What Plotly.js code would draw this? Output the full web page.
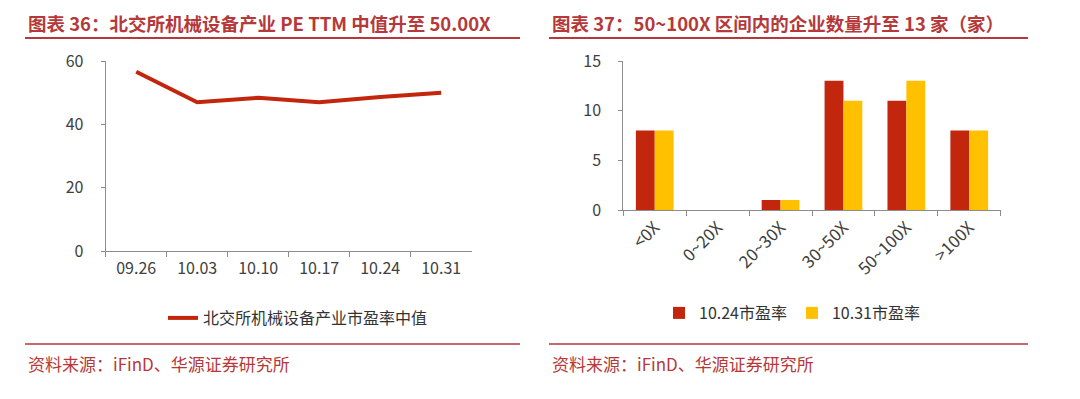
<!DOCTYPE html>
<html>
<head>
<meta charset="utf-8">
<script src="https://cdn.plot.ly/plotly-3.0.1.min.js"></script>
<style>
html,body{margin:0;padding:0;background:#fff;}
#chart{width:1080px;height:399px;}
</style>
</head>
<body>
<div id="chart"></div>
<script>
// Left chart: PE TTM median
const dates = ["09.26", "10.03", "10.10", "10.17", "10.24", "10.31"];
const peMedian = [56.6, 47.0, 48.4, 47.0, 48.6, 50.0];
const lineName = "北交所机械设备产业市盈率中值";

// Right chart: number of companies per PE range
const peRanges = ["<0X", "0~20X", "20~30X", "30~50X", "50~100X", ">100X"];
const count1024 = [8, 0, 1, 13, 11, 8];
const count1031 = [8, 0, 1, 11, 13, 8];
const name1024 = "10.24市盈率";
const name1031 = "10.31市盈率";

const title1 = "图表 36：北交所机械设备产业 PE TTM 中值升至 50.00X";
const title2 = "图表 37：50~100X 区间内的企业数量升至 13 家（家）";
const source = "资料来源：iFinD、华源证券研究所";

const W = 1080, H = 399;
const px = x => x / W;
const py = y => 1 - y / H;

const cjk = '"Noto Sans CJK SC", "Noto Sans", sans-serif';
const tickFont = {family: cjk, size: 16, color: '#404040'};
const axisColor = '#8c8c8c';
const titleColor = '#b5393a';

const traces = [
  {
    x: dates, y: peMedian, type: 'scatter', mode: 'lines', name: lineName,
    line: {color: '#c2260c', width: 4}, xaxis: 'x', yaxis: 'y', legend: 'legend'
  },
  {
    x: peRanges, y: count1024, type: 'bar', name: name1024,
    marker: {color: '#c2260c'}, xaxis: 'x2', yaxis: 'y2', legend: 'legend2'
  },
  {
    x: peRanges, y: count1031, type: 'bar', name: name1031,
    marker: {color: '#ffc000'}, xaxis: 'x2', yaxis: 'y2', legend: 'legend2'
  }
];

const baseX = {
  type: 'category', showline: true, linecolor: axisColor, linewidth: 1,
  ticks: 'outside', tickson: 'boundaries', ticklen: 5, tickcolor: axisColor,
  showgrid: false, zeroline: false, tickfont: tickFont, fixedrange: true
};
const baseY = {
  showline: true, linecolor: axisColor, linewidth: 1,
  ticks: 'outside', ticklen: 4, tickcolor: axisColor,
  showgrid: false, zeroline: false, tickfont: tickFont, fixedrange: true
};

const layout = {
  width: W, height: H,
  margin: {l: 0, r: 0, t: 0, b: 0},
  paper_bgcolor: '#fff', plot_bgcolor: '#fff',
  showlegend: true,
  barmode: 'group', bargap: 0.4, bargroupgap: 0,
  xaxis: Object.assign({}, baseX, {domain: [px(105.7), px(471.7)], anchor: 'y', range: [-0.5, 5.5], ticklabelstandoff: 3}),
  yaxis: Object.assign({}, baseY, {domain: [py(251), py(61)], range: [0, 60], dtick: 20, anchor: 'x', ticklabelstandoff: 14}),
  xaxis2: Object.assign({}, baseX, {domain: [px(623.3), px(1000.7)], anchor: 'y2', range: [-0.5, 5.5], tickangle: -45, tickfont: {family: cjk, size: 17, color: '#404040'}}),
  yaxis2: Object.assign({}, baseY, {domain: [py(210), py(61)], range: [0, 15], dtick: 5, anchor: 'x2', ticklabelstandoff: 14}),
  legend: {
    orientation: 'h', x: px(298), y: py(318), xanchor: 'center', yanchor: 'middle',
    font: {family: cjk, size: 16, color: '#333'}, bgcolor: 'rgba(0,0,0,0)', itemwidth: 30
  },
  legend2: {
    orientation: 'h', x: px(792), y: py(313), xanchor: 'center', yanchor: 'middle',
    font: {family: cjk, size: 16, color: '#333'}, bgcolor: 'rgba(0,0,0,0)',
    itemwidth: 30, tracegroupgap: 6
  },
  shapes: [
    {type: 'line', xref: 'paper', yref: 'paper', x0: px(25), x1: px(520), y0: py(38), y1: py(38), line: {color: titleColor, width: 2}},
    {type: 'line', xref: 'paper', yref: 'paper', x0: px(549), x1: px(1028), y0: py(38), y1: py(38), line: {color: titleColor, width: 2}},
    {type: 'line', xref: 'paper', yref: 'paper', x0: px(25), x1: px(520), y0: py(344), y1: py(344), line: {color: titleColor, width: 1.5}},
    {type: 'line', xref: 'paper', yref: 'paper', x0: px(549), x1: px(1028), y0: py(344), y1: py(344), line: {color: titleColor, width: 1.5}}
  ],
  annotations: [
    {text: title1, xref: 'paper', yref: 'paper', x: px(26), y: py(23), xanchor: 'left', yanchor: 'middle', showarrow: false,
     font: {family: cjk, size: 18.5, color: titleColor, weight: 'bold'}},
    {text: title2, xref: 'paper', yref: 'paper', x: px(550), y: py(23), xanchor: 'left', yanchor: 'middle', showarrow: false,
     font: {family: cjk, size: 18.5, color: titleColor, weight: 'bold'}},
    {text: source, xref: 'paper', yref: 'paper', x: px(26), y: py(363), xanchor: 'left', yanchor: 'middle', showarrow: false,
     font: {family: cjk, size: 17, color: titleColor}},
    {text: source, xref: 'paper', yref: 'paper', x: px(550), y: py(363), xanchor: 'left', yanchor: 'middle', showarrow: false,
     font: {family: cjk, size: 17, color: titleColor}}
  ]
};

Plotly.newPlot('chart', traces, layout, {displayModeBar: false, staticPlot: true});
</script>
</body>
</html>
